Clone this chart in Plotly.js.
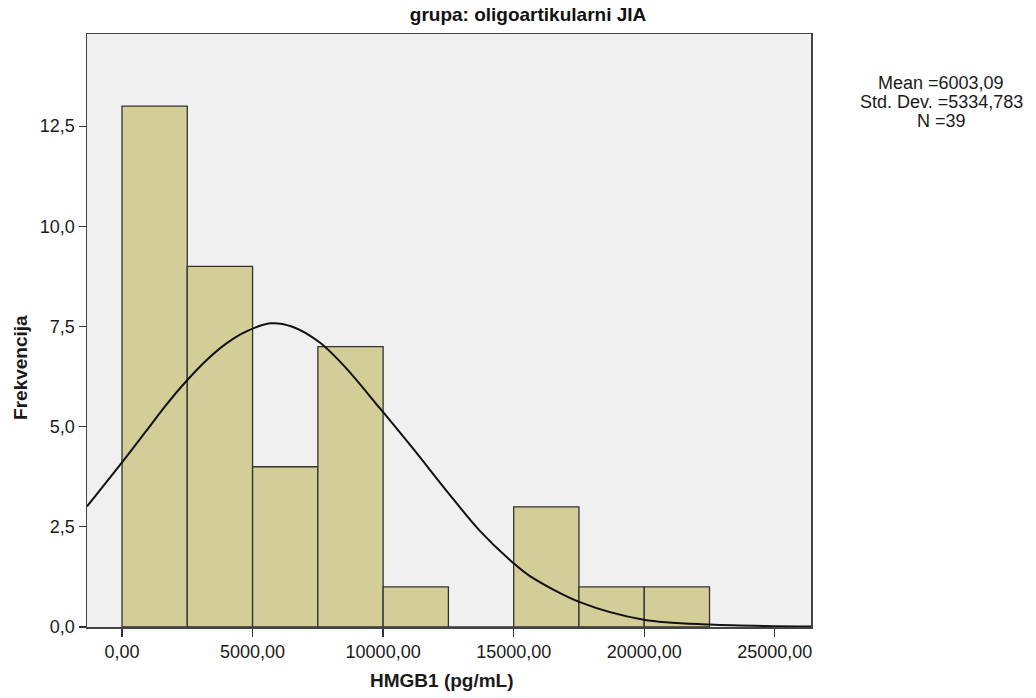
<!DOCTYPE html>
<html>
<head>
<meta charset="utf-8">
<script src="https://cdn.plot.ly/plotly-3.0.1.min.js"></script>
<style>html,body{margin:0;padding:0;background:#fff;}#chart{width:1036px;height:698px;}</style>
</head>
<body>
<div id="chart"></div>
<script>
// Histogram bins (bin centres) and frequencies
const binCenters = [1250, 3750, 6250, 8750, 11250, 13750, 16250, 18750, 21250];
const frequencies = [13, 9, 4, 7, 1, 0, 3, 1, 1];
const binWidth = 2500;

// Normal curve points
const curveX = [-1341, 0, 935, 1701, 2467, 3234, 4000, 4766, 5686, 6500, 7575, 8598, 9874, 11149, 12429, 13705, 14981, 15623, 17537, 19989, 22517, 26387];
const curveY = [3.01, 4.11, 4.90, 5.55, 6.14, 6.66, 7.08, 7.38, 7.58, 7.50, 7.10, 6.45, 5.46, 4.45, 3.40, 2.40, 1.60, 1.27, 0.62, 0.18, 0.06, 0.01];

const xTicks = [0, 5000, 10000, 15000, 20000, 25000];
const yTicks = [0, 2.5, 5, 7.5, 10, 12.5];

const titleText = 'grupa: oligoartikularni JIA';
const xTitle = 'HMGB1 (pg/mL)';
const yTitle = 'Frekvencija';
const statsLines = ['Mean =6003,09', 'Std. Dev. =5334,783', 'N =39'];

const FONT = 'Liberation Sans, Arial, sans-serif';
const TXT = '#1a1a1a';

const traces = [
  {
    type: 'bar',
    x: binCenters,
    y: frequencies,
    width: binCenters.map(() => binWidth),
    marker: {color: '#d3ce97', line: {color: '#333333', width: 1.3}},
    hoverinfo: 'skip'
  },
  {
    type: 'scatter',
    mode: 'lines',
    x: curveX,
    y: curveY,
    line: {color: '#111111', width: 2, shape: 'spline', smoothing: 0.9},
    hoverinfo: 'skip'
  }
];

const statsY = [0.9174, 0.8853, 0.8533];

const annotations = statsLines.map((t, i) => ({
  text: t,
  xref: 'paper', yref: 'paper',
  x: 1.1796, y: statsY[i],
  xanchor: 'center', yanchor: 'middle',
  showarrow: false,
  font: {family: FONT, size: 18, color: TXT}
}));

annotations.push({
  text: '<b>' + xTitle + '</b>',
  xref: 'paper', yref: 'paper',
  x: 0.49, y: -0.0894,
  xanchor: 'center', yanchor: 'middle',
  showarrow: false,
  font: {family: FONT, size: 19, color: TXT}
});
annotations.push({
  text: '<b>' + yTitle + '</b>',
  xref: 'paper', yref: 'paper',
  x: -0.0912, y: 0.4385,
  xanchor: 'center', yanchor: 'middle',
  textangle: -90,
  showarrow: false,
  font: {family: FONT, size: 19, color: TXT}
});

const layout = {
  width: 1036,
  height: 698,
  margin: {l: 87, r: 225, t: 34, b: 71},
  paper_bgcolor: '#ffffff',
  plot_bgcolor: '#f0f0f0',
  showlegend: false,
  separators: ',.',
  bargap: 0,
  font: {family: FONT, size: 18, color: TXT},
  title: {
    text: '<b>' + titleText + '</b>',
    font: {family: FONT, size: 19, color: '#111111'},
    x: 0.5097, xanchor: 'center', xref: 'container',
    y: 0.98, yanchor: 'middle', yref: 'container'
  },
  xaxis: {
    range: [-1341, 26387],
    tickvals: xTicks,
    tickformat: '.2f',
    ticks: 'outside', ticklen: 8, tickwidth: 1.3, tickcolor: '#333',
    showgrid: false, zeroline: false,
    showline: true, linecolor: '#444', linewidth: 1.5, mirror: true,
    tickfont: {family: FONT, size: 18, color: TXT}
  },
  yaxis: {
    range: [0, 14.8],
    tickvals: yTicks,
    tickformat: '.1f',
    ticks: 'outside', ticklen: 7, tickwidth: 1.3, tickcolor: '#333',
    showgrid: false, zeroline: false,
    showline: true, linecolor: '#444', linewidth: 1.5, mirror: true,
    tickfont: {family: FONT, size: 18, color: TXT}
  },
  annotations: annotations
};

Plotly.newPlot('chart', traces, layout, {displayModeBar: false, staticPlot: true});
</script>
</body>
</html>
